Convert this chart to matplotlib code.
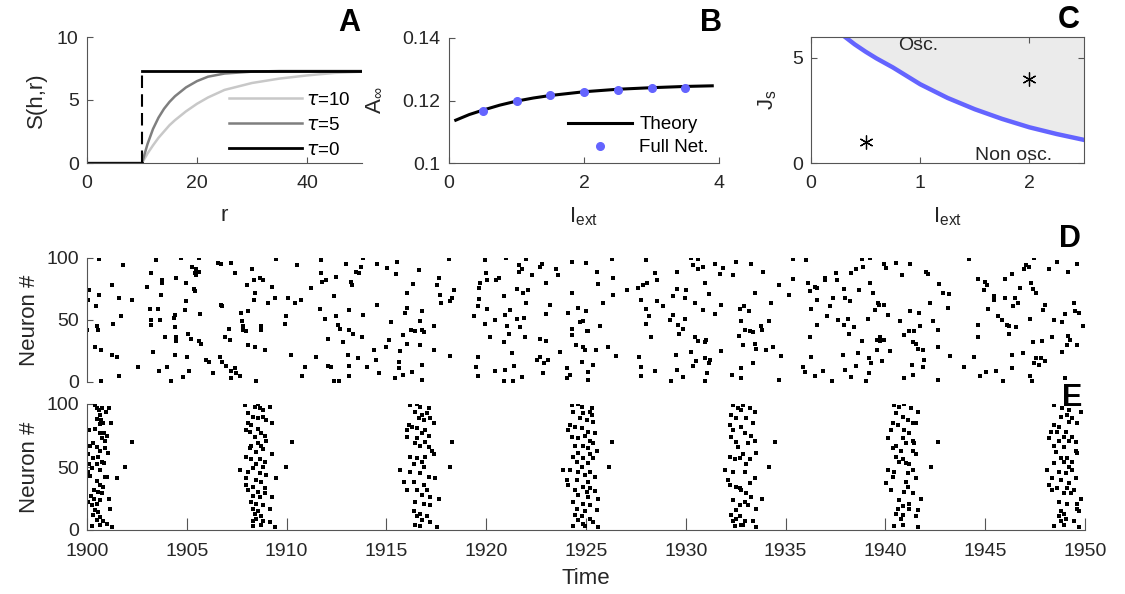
import numpy as np
import matplotlib
matplotlib.use('Agg')
import matplotlib.pyplot as plt

plt.rcParams['font.family'] = ['Liberation Sans', 'DejaVu Sans']
plt.rcParams['mathtext.fontset'] = 'dejavusans'

# ---- panel A: S(h,r) for three tau values
r_grid = [0, 10, 11, 12, 13, 14, 15, 16, 18, 20, 22, 25, 30, 35, 40, 45, 50]
s_tau10 = [0, 0, 0.75, 1.4, 2.0, 2.5, 3.0, 3.4, 4.1, 4.7, 5.2, 5.8, 6.35, 6.7, 6.95, 7.15, 7.25]
s_tau5 = [0, 0, 1.5, 2.7, 3.6, 4.3, 4.85, 5.3, 6.0, 6.5, 6.85, 7.1, 7.25, 7.3, 7.3, 7.3, 7.3]
r_step = [0, 10, 10, 50]
s_tau0 = [0, 0, 7.3, 7.3]

# ---- panel B: A_inf vs I_ext
i_theory = [0.1, 0.3, 0.5, 0.75, 1.0, 1.25, 1.5, 1.75, 2.0, 2.5, 3.0, 3.5, 3.9]
a_theory = [0.1137, 0.1155, 0.1169, 0.1185, 0.1198, 0.1208, 0.1216, 0.1222,
            0.1228, 0.1236, 0.1241, 0.1245, 0.1247]
i_net = [0.5, 1.0, 1.5, 2.0, 2.5, 3.0, 3.5]
a_net = [0.1167, 0.1197, 0.1217, 0.1227, 0.1233, 0.1239, 0.1239]

# ---- panel C: boundary of oscillatory regime
i_bound = [0.3, 0.4, 0.5, 0.6, 0.75, 1.0, 1.25, 1.5, 1.75, 2.0, 2.25, 2.5]
j_bound = [6.05, 5.65, 5.3, 4.98, 4.55, 3.75, 3.1, 2.56, 2.1, 1.7, 1.38, 1.1]
i_marks = [0.5, 2.0]
j_marks = [1.0, 4.0]

# ---- panel D: asynchronous raster (time, neuron)
d_part1 = [
    (1900.62, 99), (1900.1, 74), (1900.07, 66), (1900.43, 61), (1900.62, 70), (1900.48, 45),
    (1900.57, 42), (1900.02, 42), (1900.4, 28), (1900.7, 26), (1900.7, 1), (1901.23, 78),
    (1901.62, 68), (1901.32, 47), (1901.23, 22), (1901.48, 20), (1901.82, 94), (1901.68, 53),
    (1901.6, 5), (1902.23, 66), (1902.57, 12), (1903.02, 77), (1903.2, 88), (1903.15, 59),
    (1903.2, 50), (1903.2, 46), (1903.65, 50), (1903.48, 98), (1903.77, 82), (1903.77, 80),
    (1903.73, 70), (1903.58, 59), (1903.32, 24), (1903.62, 9), (1903.9, 36), (1904.03, 12),
    (1904.2, 1), (1904.37, 52), (1904.4, 54), (1904.48, 84), (1904.43, 44), (1904.48, 36),
    (1904.48, 33), (1904.4, 22), (1904.73, 100), (1904.93, 58), (1904.98, 65), (1904.8, 4),
    (1904.98, 80), (1905.02, 20), (1905.07, 39), (1905.12, 9), (1905.23, 35), (1905.28, 93),
    (1905.48, 91), (1905.4, 88), (1905.48, 86), (1905.62, 89), (1905.62, 100), (1905.37, 75),
    (1905.43, 73), (1905.65, 55), (1905.6, 33), (1905.7, 31), (1905.95, 18), (1906.12, 16),
    (1906.32, 7), (1906.57, 96), (1906.73, 95), (1906.73, 62), (1906.77, 61), (1906.65, 20),
    (1906.78, 16), (1906.98, 13), (1906.93, 36), (1907.2, 96), (1907.4, 88), (1907.15, 34),
    (1907.1, 43), (1907.23, 9), (1907.2, 3), (1907.4, 11), (1907.48, 7), (1907.65, 5),
    (1907.82, 45), (1907.82, 42), (1907.73, 56), (1907.77, 49), (1907.98, 41), (1908.07, 30),
    (1908.07, 57), (1908.03, 78), (1908.28, 91), (1908.37, 82), (1908.35, 66), (1908.43, 72),
    (1908.45, 1), (1908.4, 28), (1908.65, 84), (1908.82, 82), (1908.73, 45), (1908.73, 42),
    (1908.9, 26), (1909.07, 64), (1909.28, 77), (1909.42, 68), (1909.45, 99), (1909.98, 53),
    (1909.93, 47), (1910.07, 68), (1910.2, 22), (1910.4, 64), (1910.52, 94), (1910.7, 66),
    (1910.78, 5), (1910.93, 12), (1911.23, 76), (1911.48, 20), (1911.73, 98), (1911.73, 88),
    (1911.78, 81), (1911.68, 59), (1911.9, 51), (1912.07, 13), (1911.98, 82), (1912.07, 35),
    (1912.23, 12), (1912.37, 1), (1912.48, 53), (1912.48, 85), (1912.37, 69), (1912.57, 46),
    (1912.65, 1), (1912.7, 43), (1912.82, 32), (1913.15, 5), (1912.98, 95), (1913.15, 58),
    (1913.23, 81), (1913.28, 78), (1913.12, 42), (1913.1, 22), (1913.15, 13), (1913.48, 89),
    (1913.65, 88), (1913.73, 93), (1913.57, 19), (1913.32, 39), (1913.78, 36), (1913.85, 54),
    (1913.82, 100), (1914.03, 12),
]
d_part2 = [
    (1914.53, 95), (1915.03, 92), (1915.53, 97), (1915.5, 87), (1916.65, 90), (1918.12, 99),
    (1917.62, 84), (1917.53, 78), (1917.7, 70), (1917.73, 64), (1918.2, 65), (1918.28, 68),
    (1918.4, 74), (1916.32, 79), (1916.03, 72), (1914.53, 62), (1915.95, 56), (1916.03, 60),
    (1916.78, 57), (1916.7, 49), (1915.23, 48), (1916.23, 42), (1916.45, 41), (1916.78, 42),
    (1916.9, 40), (1917.4, 45), (1915.82, 38), (1916.03, 31), (1916.7, 30), (1915.12, 34),
    (1915.0, 28), (1914.4, 26), (1915.7, 25), (1915.62, 16), (1915.62, 11), (1916.28, 8),
    (1916.78, 14), (1915.82, 6), (1914.62, 7), (1915.42, 3), (1916.78, 2), (1917.37, 26),
    (1918.2, 21), (1914.5, 18), (1919.92, 98), (1921.0, 100), (1921.98, 99), (1919.98, 88),
    (1920.03, 82), (1919.7, 80), (1919.62, 76), (1920.62, 84), (1920.5, 82), (1921.62, 94),
    (1921.78, 91), (1921.62, 89), (1922.78, 95), (1922.7, 93), (1922.28, 86), (1923.5, 91),
    (1923.62, 86), (1923.0, 80), (1921.53, 75), (1921.82, 72), (1922.08, 74), (1922.0, 64),
    (1920.9, 69), (1919.62, 67), (1919.57, 61), (1920.03, 59), (1921.2, 58), (1920.95, 54),
    (1921.03, 45), (1921.53, 51), (1921.87, 52), (1921.7, 44), (1919.4, 53), (1920.45, 50),
    (1919.95, 47), (1920.2, 36), (1921.12, 39), (1920.87, 32), (1921.92, 36), (1922.7, 35),
    (1923.0, 33), (1921.28, 23), (1921.4, 13), (1920.95, 10), (1920.42, 9), (1919.57, 20),
    (1919.5, 12), (1919.57, 5), (1920.87, 1), (1921.32, 0.5), (1921.8, 4), (1922.53, 18),
    (1922.7, 20), (1922.9, 15), (1923.1, 18), (1922.87, 7), (1923.2, 62), (1923.0, 55),
    (1924.28, 97), (1925.0, 96), (1925.53, 89), (1926.28, 99), (1926.37, 84), (1925.58, 79),
    (1924.28, 72), (1926.37, 70), (1925.87, 64), (1924.12, 56), (1924.62, 60), (1925.0, 57),
    (1924.87, 49), (1924.7, 48), (1925.12, 41), (1925.03, 41), (1925.7, 45), (1924.28, 43),
    (1924.28, 38), (1923.7, 24), (1924.48, 30), (1924.87, 28), (1924.95, 26), (1925.5, 26),
    (1926.08, 28), (1926.48, 21), (1924.78, 16), (1925.37, 14), (1924.03, 11), (1924.2, 6),
    (1924.03, 3), (1925.12, 8), (1925.12, 2), (1928.0, 98), (1928.45, 88), (1928.57, 82),
    (1928.08, 80), (1927.87, 78), (1927.62, 76), (1927.07, 74), (1927.78, 66), (1928.0, 59),
    (1928.17, 53), (1928.0, 47), (1928.58, 65), (1928.87, 61), (1929.37, 69), (1929.57, 75),
    (1930.03, 74), (1929.95, 68), (1929.58, 89), (1930.28, 100), (1930.62, 99), (1930.37, 94),
    (1930.62, 91), (1930.87, 93), (1931.48, 95), (1931.87, 92), (1931.7, 87), (1932.37, 86),
    (1932.53, 97), (1930.95, 80), (1931.15, 71), (1930.45, 64), (1930.87, 58), (1931.48, 55),
    (1931.75, 62), (1929.37, 54), (1929.2, 50), (1929.95, 51), (1929.62, 46), (1929.87, 43),
    (1929.67, 39), (1930.45, 36), (1930.62, 33), (1931.03, 34), (1930.95, 32), (1928.28, 36),
    (1931.75, 25), (1930.28, 24), (1929.53, 22), (1930.53, 17), (1930.37, 13), (1930.95, 19),
    (1931.2, 18), (1931.17, 15), (1927.67, 20), (1927.78, 12), (1927.78, 5), (1928.45, 9),
    (1929.57, 10), (1929.87, 4), (1929.28, 1), (1930.95, 0.5), (1931.07, 7), (1932.33, 6),
    (1932.67, 37),
]
d_part3 = [
    (1933.28, 95), (1933.87, 89), (1933.45, 72), (1934.67, 78), (1935.17, 70), (1935.37, 99),
    (1936.03, 98), (1935.37, 83), (1932.7, 59), (1932.9, 61), (1933.17, 57), (1934.28, 64),
    (1932.78, 49), (1932.95, 42), (1933.2, 41), (1933.37, 40), (1933.78, 45), (1933.83, 42),
    (1934.17, 49), (1932.87, 30), (1933.45, 31), (1933.53, 27), (1934.03, 26), (1934.37, 28),
    (1934.75, 21), (1933.37, 15), (1932.78, 11), (1932.78, 3), (1934.67, 2), (1936.12, 80),
    (1936.2, 73), (1936.45, 77), (1936.57, 76), (1936.57, 66), (1936.25, 59), (1936.95, 84),
    (1936.95, 82), (1937.53, 88), (1937.57, 82), (1937.37, 68), (1937.23, 61), (1937.07, 53),
    (1936.57, 46), (1936.23, 36), (1936.25, 20), (1935.87, 12), (1935.95, 8), (1936.45, 5),
    (1936.87, 9), (1937.33, 1), (1937.65, 50), (1937.95, 46), (1938.12, 51), (1938.45, 44),
    (1938.17, 39), (1937.95, 75), (1938.0, 68), (1938.23, 65), (1938.67, 74), (1938.28, 88),
    (1938.53, 91), (1938.87, 93), (1938.83, 99), (1939.25, 100), (1939.23, 80), (1939.37, 72),
    (1939.62, 64), (1939.48, 58), (1939.12, 51), (1938.83, 33), (1939.57, 34), (1939.75, 36),
    (1939.92, 34), (1939.75, 33), (1939.57, 26), (1937.87, 22), (1938.62, 23), (1939.2, 19),
    (1939.28, 15), (1939.83, 17), (1940.23, 25), (1938.28, 4), (1938.0, 10), (1938.53, 13),
    (1939.03, 0.5), (1939.2, 7), (1939.92, 95), (1940.03, 92), (1940.53, 96), (1941.23, 95),
    (1940.83, 86), (1939.67, 62), (1939.95, 62), (1940.15, 54), (1940.75, 49), (1940.95, 38),
    (1941.2, 41), (1941.45, 41), (1941.37, 32), (1941.53, 31), (1941.62, 27), (1941.87, 26),
    (1941.23, 57), (1941.7, 56), (1941.75, 45), (1942.23, 64), (1942.4, 49), (1942.65, 42),
    (1942.62, 28), (1941.95, 18), (1941.87, 12), (1941.33, 14), (1941.4, 6), (1940.95, 3),
    (1942.63, 2), (1942.03, 89), (1942.15, 87), (1942.7, 79), (1942.87, 72), (1943.17, 71),
    (1943.13, 60), (1943.23, 21), (1944.2, 99), (1944.62, 83), (1945.0, 81), (1945.07, 78),
    (1944.95, 74), (1945.42, 69), (1945.45, 66), (1945.12, 59), (1944.62, 46), (1944.62, 36),
    (1944.42, 20), (1943.95, 12), (1944.73, 5), (1945.03, 8), (1945.53, 9), (1945.87, 1),
    (1945.62, 53), (1945.83, 50), (1946.08, 46), (1946.17, 45), (1946.53, 44), (1946.2, 39),
    (1946.0, 83), (1946.32, 87), (1946.73, 76), (1946.0, 68), (1946.48, 68), (1946.62, 64),
    (1946.4, 61), (1947.03, 94), (1946.95, 91), (1947.2, 93), (1947.45, 100), (1948.2, 91),
    (1948.62, 97), (1949.17, 89), (1949.58, 95), (1947.28, 80), (1947.37, 75), (1947.53, 72),
    (1947.23, 51), (1948.0, 62), (1947.9, 58), (1948.45, 50), (1948.83, 48), (1949.0, 55),
    (1949.45, 64), (1949.5, 57), (1949.7, 56), (1949.9, 45), (1947.37, 32), (1947.87, 33),
    (1948.33, 36), (1949.17, 37), (1949.25, 34), (1949.12, 30), (1949.62, 30), (1948.87, 24),
    (1947.53, 19), (1947.78, 19), (1948.0, 17), (1947.7, 14), (1947.45, 15), (1947.25, 5),
    (1947.33, 1), (1946.87, 23), (1946.33, 22), (1946.32, 11), (1949.0, 3),
]

# ---- panel E: synchronous bursts (time, neuron)
e_burst1 = [
    (1900.4, 99), (1900.48, 97), (1900.62, 95), (1900.73, 97), (1901.12, 97), (1900.95, 94),
    (1900.65, 91), (1900.52, 88), (1900.7, 87), (1900.82, 85), (1900.65, 84), (1900.12, 79),
    (1900.4, 80), (1900.65, 77), (1900.85, 77), (1900.98, 75), (1900.73, 73), (1900.9, 71),
    (1901.2, 85), (1900.32, 69), (1900.15, 67), (1900.48, 66), (1900.65, 63), (1900.9, 65),
    (1901.07, 61), (1900.07, 60), (1900.32, 57), (1900.57, 58), (1900.73, 54), (1900.87, 53),
    (1900.12, 52), (1900.23, 49), (1900.48, 52), (1900.65, 48), (1900.07, 46), (1900.15, 43),
    (1900.9, 42), (1901.02, 42), (1901.48, 41), (1900.48, 39), (1900.65, 36), (1900.82, 34),
    (1900.37, 32), (1900.57, 30), (1900.73, 29), (1900.18, 27), (1900.37, 25), (1900.65, 24),
    (1900.07, 22), (1900.23, 20), (1900.48, 21), (1901.12, 25), (1901.15, 17), (1900.4, 16),
    (1900.57, 14), (1900.28, 12), (1900.65, 10), (1900.48, 8), (1900.82, 7), (1900.98, 5),
    (1900.23, 3), (1900.65, 4), (1901.23, 2), (1902.23, 70), (1901.9, 50),
]
e_burst2 = [
    (1907.9, 99), (1908.4, 98), (1908.57, 100), (1908.65, 97), (1908.82, 95), (1909.18, 98),
    (1908.07, 93), (1908.32, 90), (1908.57, 89), (1908.82, 90), (1908.98, 87), (1909.28, 85),
    (1908.07, 85), (1908.23, 83), (1907.98, 79), (1908.15, 78), (1908.57, 80), (1908.73, 77),
    (1908.9, 75), (1908.4, 74), (1908.98, 71), (1908.57, 69), (1908.73, 67), (1908.23, 67),
    (1908.15, 65), (1908.82, 64), (1908.48, 62), (1909.28, 60), (1907.98, 58), (1908.23, 56),
    (1908.65, 56), (1908.9, 54), (1908.48, 52), (1908.82, 50), (1908.32, 49), (1907.68, 48),
    (1908.07, 46), (1908.65, 45), (1908.98, 44), (1907.98, 41), (1908.48, 40), (1909.48, 41),
    (1908.73, 38), (1907.98, 36), (1908.32, 34), (1908.9, 33), (1908.07, 32), (1908.57, 30),
    (1908.9, 29), (1908.32, 27), (1908.65, 26), (1909.28, 26), (1908.23, 22), (1908.48, 21),
    (1908.82, 20), (1909.15, 17), (1908.32, 17), (1908.57, 15), (1908.4, 13), (1908.73, 11),
    (1908.48, 9), (1908.32, 7), (1908.82, 7), (1909.18, 6), (1908.32, 3), (1908.73, 4),
    (1909.4, 2), (1910.28, 70), (1909.98, 50),
]
e_burst3 = [
    (1916.2, 99), (1916.53, 100), (1916.7, 98), (1917.12, 97), (1916.45, 94), (1916.78, 91),
    (1917.03, 93), (1916.62, 89), (1916.87, 87), (1917.2, 89), (1917.37, 85), (1916.12, 83),
    (1916.28, 82), (1916.03, 79), (1916.53, 81), (1916.95, 79), (1916.78, 77), (1917.12, 75),
    (1916.03, 74), (1916.53, 73), (1916.95, 70), (1916.45, 69), (1916.7, 67), (1917.12, 66),
    (1917.28, 63), (1916.2, 58), (1916.53, 57), (1916.95, 58), (1917.37, 60), (1916.78, 54),
    (1916.37, 52), (1916.87, 50), (1915.7, 48), (1916.2, 46), (1916.7, 45), (1917.12, 42),
    (1917.45, 41), (1915.87, 38), (1916.37, 38), (1916.87, 36), (1916.03, 32), (1916.53, 32),
    (1917.03, 32), (1916.78, 28), (1917.2, 26), (1917.62, 25), (1916.45, 22), (1916.87, 21),
    (1917.2, 20), (1916.37, 15), (1916.7, 13), (1917.03, 11), (1916.53, 11), (1916.78, 8),
    (1917.2, 6), (1916.45, 4), (1916.7, 3), (1917.53, 2), (1918.28, 70), (1918.2, 50),
]
e_burst4 = [
    (1924.28, 99), (1924.62, 100), (1924.78, 98), (1925.28, 97), (1924.37, 94), (1924.87, 93),
    (1925.2, 94), (1925.28, 91), (1924.7, 89), (1925.03, 87), (1925.37, 86), (1924.2, 83),
    (1924.45, 82), (1924.12, 79), (1924.78, 81), (1925.12, 78), (1924.95, 75), (1925.45, 77),
    (1924.28, 74), (1924.62, 73), (1925.2, 71), (1925.37, 69), (1924.45, 67), (1924.87, 67),
    (1925.12, 65), (1925.53, 63), (1924.62, 61), (1925.2, 60), (1924.37, 58), (1924.87, 57),
    (1925.37, 57), (1924.53, 54), (1925.12, 53), (1924.78, 50), (1924.2, 48), (1923.87, 48),
    (1924.62, 46), (1925.2, 46), (1924.95, 44), (1925.45, 42), (1924.03, 40), (1924.53, 40),
    (1925.12, 38), (1924.12, 36), (1924.87, 34), (1925.2, 33), (1924.45, 32), (1925.03, 30),
    (1925.45, 31), (1924.62, 28), (1925.12, 26), (1925.62, 25), (1924.37, 22), (1924.87, 21),
    (1925.2, 20), (1924.53, 17), (1924.95, 15), (1925.53, 16), (1924.45, 12), (1924.78, 11),
    (1924.62, 8), (1925.2, 9), (1924.87, 5), (1925.37, 6), (1924.37, 3), (1924.95, 3),
    (1925.62, 2), (1926.28, 70), (1926.17, 50),
]
e_burst5 = [
    (1932.37, 99), (1932.62, 97), (1932.78, 95), (1932.28, 91), (1932.53, 89), (1932.2, 83),
    (1932.37, 79), (1932.28, 74), (1932.53, 70), (1932.62, 66), (1932.2, 58), (1932.45, 56),
    (1932.7, 57), (1931.95, 48), (1932.37, 46), (1932.12, 40), (1932.2, 36), (1932.53, 34),
    (1932.78, 32), (1932.37, 24), (1932.7, 20), (1932.53, 16), (1932.28, 12), (1932.53, 9),
    (1932.37, 7), (1932.45, 3), (1932.87, 4), (1932.87, 99), (1933.2, 97), (1933.45, 94),
    (1933.03, 89), (1933.37, 85), (1932.78, 82), (1932.95, 77), (1933.28, 75), (1933.45, 71),
    (1933.12, 69), (1933.53, 61), (1932.87, 60), (1933.2, 56), (1933.03, 52), (1933.45, 41),
    (1932.95, 46), (1933.2, 37), (1932.7, 33), (1933.03, 29), (1933.28, 26), (1932.95, 22),
    (1933.53, 17), (1933.12, 20), (1932.7, 11), (1932.95, 7), (1933.37, 7), (1933.53, 2),
    (1932.78, 4), (1933.83, 25), (1934.17, 50), (1934.45, 70),
]
e_burst6 = [
    (1940.45, 99), (1940.67, 98), (1940.92, 100), (1941.28, 97), (1941.62, 94), (1940.53, 93),
    (1940.87, 90), (1940.37, 85), (1940.62, 83), (1941.12, 87), (1941.37, 85), (1941.53, 85),
    (1940.28, 79), (1940.95, 79), (1941.2, 77), (1940.12, 73), (1940.87, 73), (1941.37, 71),
    (1940.53, 67), (1941.03, 69), (1941.45, 69), (1940.78, 63), (1940.37, 65), (1941.37, 63),
    (1941.53, 60), (1940.53, 58), (1940.87, 56), (1941.03, 53), (1940.7, 54), (1941.2, 52),
    (1941.37, 48), (1940.12, 48), (1940.45, 46), (1941.12, 45), (1941.53, 41), (1940.37, 42),
    (1941.03, 38), (1940.03, 37), (1940.28, 32), (1941.12, 34), (1940.95, 30), (1941.37, 29),
    (1940.7, 24), (1941.2, 21), (1941.78, 25), (1940.62, 17), (1940.87, 19), (1941.2, 17),
    (1941.62, 16), (1940.53, 13), (1940.87, 12), (1940.78, 9), (1941.53, 11), (1940.45, 3),
    (1940.87, 4), (1941.62, 2), (1942.62, 70), (1942.28, 50),
]
e_burst7 = [
    (1948.45, 99), (1948.87, 97), (1949.2, 95), (1949.78, 94), (1948.78, 90), (1949.12, 91),
    (1949.37, 89), (1949.62, 85), (1949.2, 86), (1948.45, 83), (1948.7, 82), (1948.28, 78),
    (1948.62, 78), (1949.03, 78), (1948.95, 74), (1949.37, 74), (1948.2, 73), (1948.7, 71),
    (1949.2, 71), (1949.53, 70), (1948.45, 67), (1948.95, 66), (1949.53, 63), (1949.62, 61),
    (1948.53, 62), (1948.78, 57), (1949.12, 57), (1949.37, 54), (1948.95, 54), (1948.45, 53),
    (1949.2, 50), (1948.12, 48), (1948.7, 46), (1949.37, 48), (1949.03, 45), (1949.53, 41),
    (1948.37, 41), (1948.78, 40), (1948.2, 36), (1949.2, 37), (1948.62, 33), (1949.12, 33),
    (1949.45, 32), (1948.37, 32), (1948.95, 29), (1949.28, 29), (1949.78, 25), (1948.7, 22),
    (1949.12, 21), (1949.62, 21), (1948.78, 15), (1948.95, 13), (1949.62, 17), (1949.7, 15),
    (1948.7, 11), (1949.03, 9), (1948.45, 3), (1948.95, 4), (1949.45, 7), (1949.7, 2),
    (1948.78, 7),
]

W, H = 1125, 594
AX_COL = '#555555'
TXT_COL = '#262626'
BLUE = '#6464ff'


def rect(left, top, right, bottom):
    return [left / W, 1 - bottom / H, (right - left) / W, (bottom - top) / H]


def style(ax, box=False, ticklen=4):
    for side in ['top', 'right']:
        ax.spines[side].set_visible(box)
    for sp in ax.spines.values():
        sp.set_color(AX_COL)
        sp.set_linewidth(0.8)
    ax.tick_params(direction='in', length=ticklen, width=0.8, color=AX_COL,
                   labelcolor=TXT_COL, labelsize=14, top=box, right=box)
    ax.tick_params(axis='x', pad=9)
    ax.tick_params(axis='y', pad=6)


fig = plt.figure(figsize=(W / 100, H / 100), dpi=100)

# A
axA = fig.add_axes(rect(87, 37, 362, 163))
axA.plot(r_grid, s_tau10, color='#c8c8c8', lw=1.8, label=r'$\tau$=10')
axA.plot(r_grid, s_tau5, color='#7f7f7f', lw=1.8, label=r'$\tau$=5')
axA.plot(r_step[:2], s_tau0[:2], color='black', lw=2)
axA.plot(r_step[2:], s_tau0[2:], color='black', lw=2, label=r'$\tau$=0')
axA.plot(r_step[1:3], s_tau0[1:3], color='black', lw=1.5, dashes=(6, 3))
axA.set_xlim(0, 50)
axA.set_ylim(0, 10)
axA.set_xticks([0, 20, 40])
axA.set_yticks([0, 5, 10])
style(axA)
axA.set_xlabel('r', fontsize=16, color=TXT_COL, labelpad=9)
axA.set_ylabel('S(h,r)', fontsize=16, color=TXT_COL, labelpad=7)
axA.legend(loc='lower right', bbox_to_anchor=(1.02, -0.1), frameon=False, fontsize=13.5,
           handlelength=3.9, handletextpad=0.2, labelspacing=0.42)

# B
axB = fig.add_axes(rect(449, 38, 719, 163))
axB.plot(i_theory, a_theory, color='black', lw=2.2, label='Theory')
axB.plot(i_net, a_net, 'o', color=BLUE, ms=5.5, label='Full Net.')
axB.set_xlim(0, 4)
axB.set_ylim(0.1, 0.14)
axB.set_xticks([0, 2, 4])
axB.set_yticks([0.1, 0.12, 0.14])
axB.set_yticklabels(['0.1', '0.12', '0.14'])
style(axB)
axB.set_xlabel(r'$\mathregular{I_{ext}}$', fontsize=16, color=TXT_COL, labelpad=9)
axB.set_ylabel(r'$\mathregular{A_{\infty}}$', fontsize=16, color=TXT_COL, labelpad=13)
axB.legend(loc='lower right', bbox_to_anchor=(1.025, -0.08), frameon=False, fontsize=13.5,
           handlelength=3.4, handletextpad=0.4, labelspacing=0.3)

# C
axC = fig.add_axes(rect(811, 37, 1084, 163))
axC.fill_between(i_bound, j_bound, 6.5, color='#ebebeb', lw=0)
axC.plot(i_bound, j_bound, color=BLUE, lw=3.2)
axC.plot(i_marks, j_marks, ls='none', marker=(6, 2, 0), ms=10, color='black', mew=0.9)
axC.text(0.8, 5.6, 'Osc.', fontsize=14, color=TXT_COL, va='center')
axC.text(1.5, 0.38, 'Non osc.', fontsize=14, color=TXT_COL, va='center')
axC.set_xlim(0, 2.5)
axC.set_ylim(0, 6)
axC.set_xticks([0, 1, 2])
axC.set_yticks([0, 5])
style(axC, box=True)
axC.set_xlabel(r'$\mathregular{I_{ext}}$', fontsize=16, color=TXT_COL, labelpad=9)
axC.set_ylabel(r'$\mathregular{J_s}$', fontsize=16, color=TXT_COL, labelpad=9)

# D
axD = fig.add_axes(rect(87, 258, 1085, 382))
d_all = np.array(d_part1 + d_part2 + d_part3)
axD.plot(d_all[:, 0], d_all[:, 1], 's', color='black', ms=2.2, mew=0)
axD.set_xlim(1900, 1950)
axD.set_ylim(0, 100)
axD.set_yticks([0, 50, 100])
axD.set_xticks([])
style(axD)
axD.spines['bottom'].set_visible(False)
axD.set_ylabel('Neuron #', fontsize=16, color=TXT_COL, labelpad=4)

# E
axE = fig.add_axes(rect(87, 404, 1085, 530))
for burst in [e_burst1, e_burst2, e_burst3, e_burst4, e_burst5, e_burst6, e_burst7]:
    b = np.array(burst)
    axE.plot(b[:, 0], b[:, 1], 's', color='black', ms=2.4, mew=0)
axE.set_xlim(1900, 1950)
axE.set_ylim(0, 100)
axE.set_yticks([0, 50, 100])
axE.set_xticks(np.arange(1900, 1951, 5))
style(axE)
axE.tick_params(axis='x', length=9)
axE.set_ylabel('Neuron #', fontsize=16, color=TXT_COL, labelpad=4)
axE.set_xlabel('Time', fontsize=16, color=TXT_COL, labelpad=6)

# panel letters
for letter, x, y in [('A', 349, 23), ('B', 711, 23), ('C', 1069, 20), ('D', 1070, 239), ('E', 1072, 398)]:
    fig.text(x / W, 1 - y / H, letter, fontsize=22, fontweight='bold', ha='center', va='center')

fig.savefig('out.png', dpi=100)
